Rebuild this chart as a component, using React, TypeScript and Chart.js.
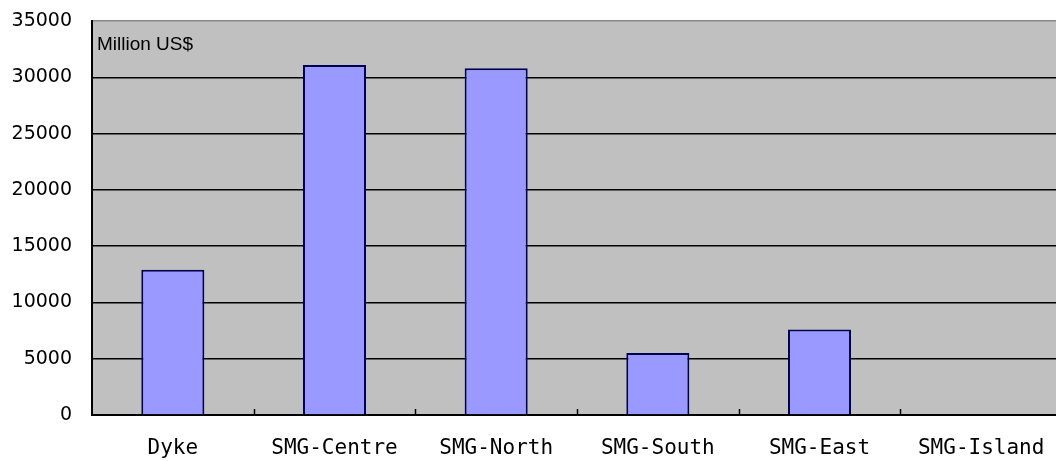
import React, { useEffect, useRef } from "react";
import { Chart, registerables } from "chart.js";

Chart.register(...registerables);

const categories = ["Dyke", "SMG-Centre", "SMG-North", "SMG-South", "SMG-East", "SMG-Island"];
const values = [12900, 31100, 30800, 5500, 7600, 0];
const yMin = 0;
const yMax = 35000;
const yStep = 5000;
const unitLabel = "Million US$";

const plotBg = {
  id: "plotBg",
  beforeDraw(chart: any) {
    const { ctx, chartArea } = chart;
    ctx.save();
    ctx.fillStyle = "#c0c0c0";
    ctx.fillRect(chartArea.left, chartArea.top, chartArea.right - chartArea.left, chartArea.bottom - chartArea.top);
    ctx.restore();
  },
  afterDraw(chart: any) {
    const { ctx, chartArea } = chart;
    const xs = chart.scales.x;
    ctx.save();
    ctx.strokeStyle = "#000";
    ctx.lineWidth = 1.5;
    for (let i = 1; i < categories.length; i++) {
      const x = Math.round((xs.getPixelForValue(i - 1) + xs.getPixelForValue(i)) / 2) + 0.5;
      ctx.beginPath();
      ctx.moveTo(x, chartArea.bottom - 6);
      ctx.lineTo(x, chartArea.bottom);
      ctx.stroke();
    }
    ctx.fillStyle = "#000";
    ctx.font = "19px 'Liberation Sans', Arial, sans-serif";
    ctx.textAlign = "left";
    ctx.textBaseline = "alphabetic";
    ctx.fillText(unitLabel, chartArea.left + 5, chartArea.top + 29);
    ctx.restore();
  },
};

export default function App() {
  const ref = useRef<HTMLCanvasElement | null>(null);
  useEffect(() => {
    if (!ref.current) return;
    const chart = new Chart(ref.current, {
      type: "bar",
      data: {
        labels: categories,
        datasets: [
          {
            data: values,
            backgroundColor: "#9999ff",
            borderColor: "#000050",
            borderWidth: 2,
            barPercentage: 0.39,
            categoryPercentage: 1,
          },
        ],
      },
      options: {
        responsive: false,
        animation: false,
        layout: { padding: { left: 0, right: 0, top: 21, bottom: 0 } },
        plugins: { legend: { display: false }, tooltip: { enabled: false } },
        scales: {
          x: {
            offset: true,
            grid: { display: false },
            border: { display: true, color: "#000", width: 2 },
            ticks: {
              color: "#000",
              font: { family: "'DejaVu Sans Mono', monospace", size: 21 },
              padding: 13,
              maxRotation: 0,
              autoSkip: false,
            },
            afterFit(scale: any) {
              scale.height = 46;
            },
          },
          y: {
            min: yMin,
            max: yMax,
            grid: {
              color: (c: any) => (c.tick && c.tick.value === yMax ? "#888" : "#000"),
              lineWidth: 1.5,
              drawTicks: false,
            },
            border: { display: true, color: "#000", width: 2 },
            ticks: {
              stepSize: yStep,
              color: "#000",
              font: { family: "'DejaVu Sans', sans-serif", size: 19 },
              padding: 20,
              callback: (v: any) => String(v),
            },
            afterFit(scale: any) {
              scale.width = 92;
              scale.paddingTop = 0;
              scale.paddingBottom = 0;
            },
          },
        },
      },
      plugins: [plotBg],
    });
    return () => chart.destroy();
  }, []);
  return (
    <div style={{ position: "absolute", left: 0, top: 0, width: 1056, height: 461, overflow: "hidden", background: "#fff" }}>
      <canvas ref={ref} width={1062} height={461} style={{ display: "block" }} />
    </div>
  );
}
